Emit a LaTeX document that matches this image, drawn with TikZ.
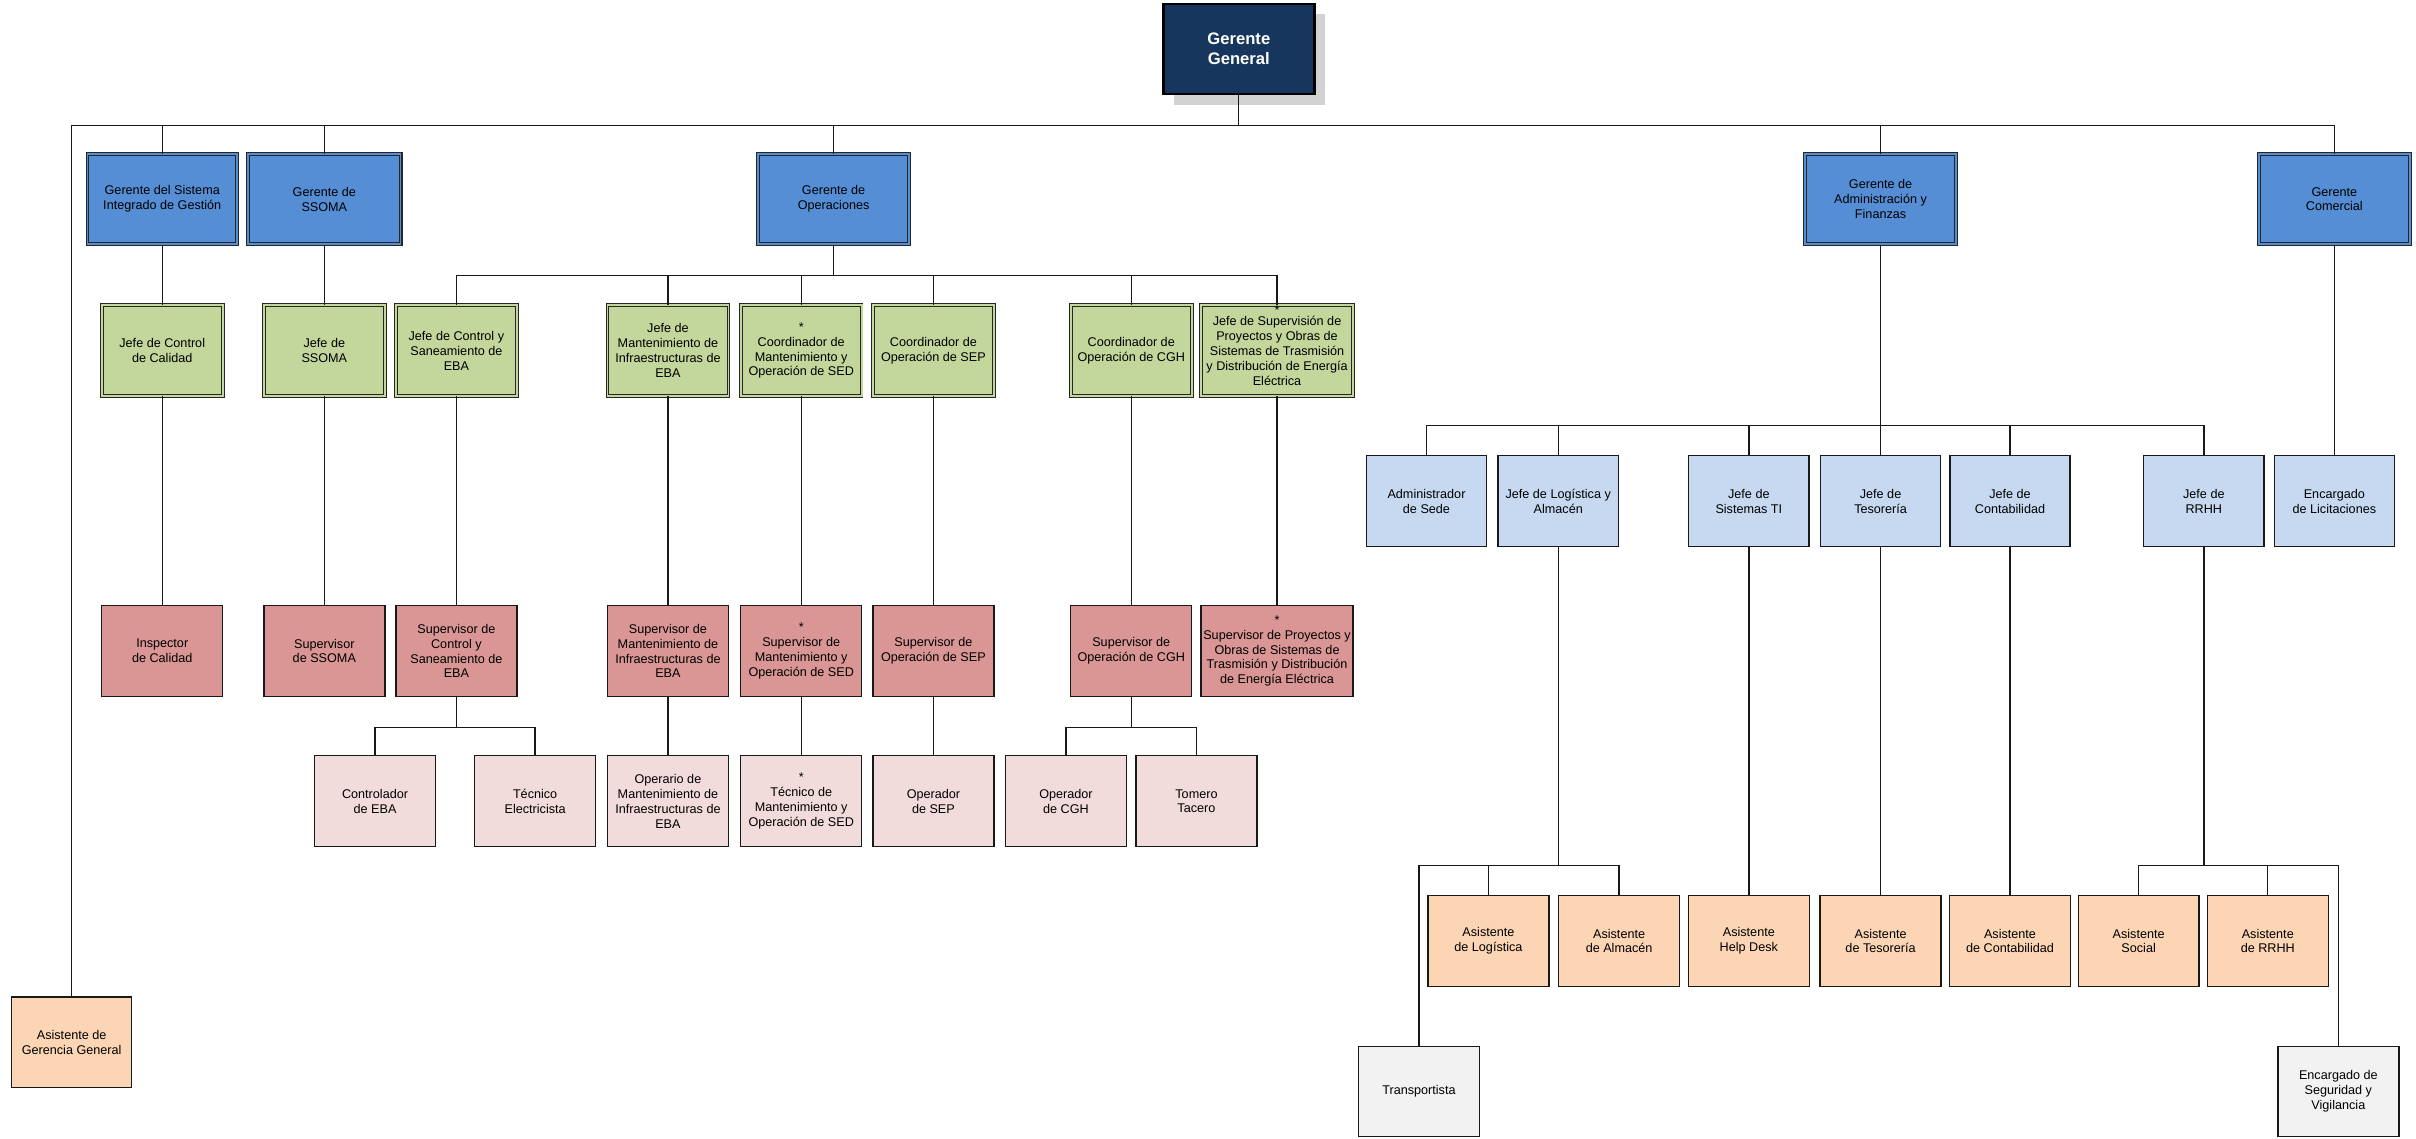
\documentclass[tikz,border=0pt]{standalone}
\usepackage{fontspec}
\setmainfont{Liberation Sans}
\definecolor{ggc}{HTML}{17365D}
\definecolor{bluec}{HTML}{558ED5}
\definecolor{greenc}{HTML}{C3D69B}
\definecolor{redc}{HTML}{D99694}
\definecolor{pinkc}{HTML}{F2DCDB}
\definecolor{lbluec}{HTML}{C6D9F1}
\definecolor{peachc}{HTML}{FCD5B5}
\definecolor{grayc}{HTML}{F2F2F2}
\newcommand\boxfont{\fontsize{8.2}{9.7}\selectfont}
\newcommand\ggfont{\fontsize{10.8}{13}\selectfont\bfseries}
\tikzset{
  basebox/.style={align=center, inner sep=1pt, font=\boxfont, text=black,
    minimum width=78.5pt, minimum height=59pt},
  ggbox/.style={basebox, fill=ggc, draw=black, line width=1.6pt, text=white,
    font=\ggfont, minimum width=98pt, minimum height=58.4pt},
  bluebox/.style={basebox, fill=bluec, draw=black!85, line width=0.75pt,
    double=bluec, double distance=1pt, minimum width=97pt, minimum height=58.5pt},
  greenbox/.style={basebox, fill=greenc, draw=black!85, line width=0.6pt,
    double=greenc, double distance=1.1pt},
  redbox/.style={basebox, fill=redc, draw=black!90, line width=0.9pt},
  pinkbox/.style={basebox, fill=pinkc, draw=black!90, line width=0.9pt},
  lbluebox/.style={basebox, fill=lbluec, draw=black!90, line width=0.9pt, minimum width=78pt},
  peachbox/.style={basebox, fill=peachc, draw=black!90, line width=0.9pt, minimum height=58.7pt},
  graybox/.style={basebox, fill=grayc, draw=black!90, line width=0.9pt, minimum height=58.7pt},
  conn/.style={draw=black!90, line width=0.85pt},
  star/.style={label={[anchor=north,inner sep=0pt,yshift=-0.5pt,font=\boxfont]north:*}}
}
\begin{document}
\begin{tikzpicture}[x=1pt,y=-1pt]
\useasboundingbox (0,0) rectangle (1568,738.6);
% shadow of top box
\fill[gray!35] (762,9) rectangle (860,68);
\node[ggbox] (gg) at (804,31.8) {Gerente\\General};
% row 1
\node[bluebox] (sig) at (105.3,129.25) {Gerente del Sistema\\Integrado de Gestión};
\node[bluebox, minimum width=99pt] (ssoma) at (210.5,129.25) {Gerente de\\SSOMA};
\node[bluebox, minimum width=98pt] (ops) at (541,129.25) {Gerente de\\Operaciones};
\node[bluebox, minimum width=98pt] (adm) at (1220.5,129.25) {Gerente de\\Administración y\\Finanzas};
\node[bluebox, minimum width=98pt] (com) at (1515,129.25) {Gerente\\Comercial};
% row 2 green
\node[greenbox] (jcc) at (105.3,227.5) {Jefe de Control\\de Calidad};
\node[greenbox] (jss) at (210.5,227.5) {Jefe de\\SSOMA};
\node[greenbox] (jcs) at (296.2,227.5) {Jefe de Control y\\Saneamiento de\\EBA};
\node[greenbox] (jmi) at (433.5,227.5) {Jefe de\\Mantenimiento de\\Infraestructuras de\\EBA};
\node[greenbox] (cms) at (520,227.5) {*\\Coordinador de\\Mantenimiento y\\Operación de SED};
\node[greenbox] (csep) at (605.8,227.5) {Coordinador de\\Operación de SEP};
\node[greenbox] (ccgh) at (734.2,227.5) {Coordinador de\\Operación de CGH};
\node[greenbox, star, minimum width=98.5pt, inner sep=0pt] (jsp) at (828.8,227.5) {Jefe de Supervisión de\\Proyectos y Obras de\\Sistemas de Trasmisión\\y Distribución de Energía\\Eléctrica};
% row 3 red
\node[redbox] (ic) at (105.3,422.5) {Inspector\\de Calidad};
\node[redbox] (ss) at (210.5,422.5) {Supervisor\\de SSOMA};
\node[redbox] (scs) at (296.2,422.5) {Supervisor de\\Control y\\Saneamiento de\\EBA};
\node[redbox] (smi) at (433.5,422.5) {Supervisor de\\Mantenimiento de\\Infraestructuras de\\EBA};
\node[redbox] (sms) at (520,422.5) {*\\Supervisor de\\Mantenimiento y\\Operación de SED};
\node[redbox] (ssep) at (605.8,422.5) {Supervisor de\\Operación de SEP};
\node[redbox] (scgh) at (734.2,422.5) {Supervisor de\\Operación de CGH};
\node[redbox, minimum width=98.5pt, inner sep=0pt] (ssp) at (828.8,422.5) {*\\Supervisor de Proyectos y\\Obras de Sistemas de\\Trasmisión y Distribución\\de Energía Eléctrica};
% row 4 pink
\node[pinkbox] (ce) at (243.4,520) {Controlador\\de EBA};
\node[pinkbox] (te) at (347.3,520) {Técnico\\Electricista};
\node[pinkbox] (om) at (433.5,520) {Operario de\\Mantenimiento de\\Infraestructuras de\\EBA};
\node[pinkbox] (tms) at (520,520) {*\\Técnico de\\Mantenimiento y\\Operación de SED};
\node[pinkbox] (osep) at (605.8,520) {Operador\\de SEP};
\node[pinkbox] (ocgh) at (691.8,520) {Operador\\de CGH};
\node[pinkbox] (tt) at (776.5,520) {Tomero\\Tacero};
% admin children
\node[lbluebox] (as) at (925.8,325.3) {Administrador\\de Sede};
\node[lbluebox] (jl) at (1011.3,325.3) {Jefe de Logística y\\Almacén};
\node[lbluebox] (jti) at (1135,325.3) {Jefe de\\Sistemas TI};
\node[lbluebox] (jt) at (1220.5,325.3) {Jefe de\\Tesorería};
\node[lbluebox] (jc) at (1304.5,325.3) {Jefe de\\Contabilidad};
\node[lbluebox] (jr) at (1430.3,325.3) {Jefe de\\RRHH};
\node[lbluebox] (el) at (1515,325.3) {Encargado\\de Licitaciones};
% assistants
\node[peachbox] (al) at (966,610.7) {Asistente\\de Logística};
\node[peachbox] (aa) at (1050.8,610.7) {Asistente\\de Almacén};
\node[peachbox] (ahd) at (1135,610.7) {Asistente\\Help Desk};
\node[peachbox] (at) at (1220.5,610.7) {Asistente\\de Tesorería};
\node[peachbox] (ac) at (1304.5,610.7) {Asistente\\de Contabilidad};
\node[peachbox] (aso) at (1388,610.7) {Asistente\\Social};
\node[peachbox] (ar) at (1471.8,610.7) {Asistente\\de RRHH};
\node[graybox] (tr) at (920.9,708.4) {Transportista};
\node[graybox] (es) at (1517.6,708.4) {Encargado de\\Seguridad y\\Vigilancia};
\node[peachbox, minimum width=78pt] (agg) at (46.5,676.4) {Asistente de\\Gerencia General};
% connectors
\foreach \c in {agg,sig,ssoma,ops,adm,com}
  \draw[conn] (gg.south) -- ++(0,19.7) -| (\c.north);
\draw[conn] (sig.south) -- (jcc.north);
\draw[conn] (ssoma.south) -- (jss.north);
\foreach \c in {jcs,jmi,cms,csep,ccgh,jsp}
  \draw[conn] (ops.south) -- ++(0,20) -| (\c.north);
\draw[conn] (jcc.south) -- (ic.north);
\draw[conn] (jss.south) -- (ss.north);
\draw[conn] (jcs.south) -- (scs.north);
\draw[conn] (jmi.south) -- (smi.north);
\draw[conn] (cms.south) -- (sms.north);
\draw[conn] (csep.south) -- (ssep.north);
\draw[conn] (ccgh.south) -- (scgh.north);
\draw[conn] (jsp.south) -- (ssp.north);
\foreach \c in {ce,te}
  \draw[conn] (scs.south) -- ++(0,19.6) -| (\c.north);
\foreach \c in {ocgh,tt}
  \draw[conn] (scgh.south) -- ++(0,19.6) -| (\c.north);
\draw[conn] (smi.south) -- (om.north);
\draw[conn] (sms.south) -- (tms.north);
\draw[conn] (ssep.south) -- (osep.north);
\foreach \c in {as,jl,jti,jt,jc,jr}
  \draw[conn] (adm.south) -- ++(0,117.3) -| (\c.north);
\draw[conn] (com.south) -- (el.north);
\foreach \c in {tr,al,aa}
  \draw[conn] (jl.south) -- ++(0,206.6) -| (\c.north);
\draw[conn] (jti.south) -- (ahd.north);
\draw[conn] (jt.south) -- (at.north);
\draw[conn] (jc.south) -- (ac.north);
\foreach \c in {aso,ar,es}
  \draw[conn] (jr.south) -- ++(0,206.6) -| (\c.north);
\end{tikzpicture}
\end{document}
